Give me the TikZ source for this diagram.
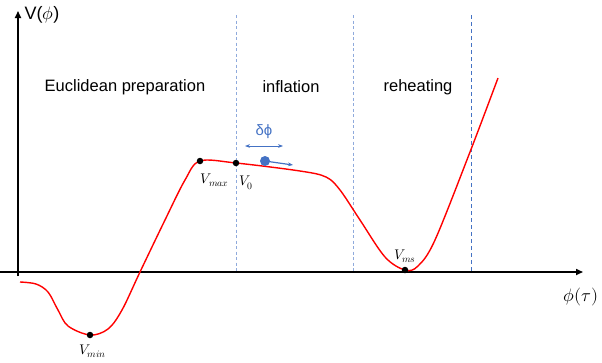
\documentclass[tikz,border=0pt]{standalone}
\usepackage{fontspec}
\setmainfont{Liberation Sans}
\usepackage{unicode-math}
\setmathfont{Latin Modern Math}
\usetikzlibrary{arrows.meta}
\definecolor{dashblue}{HTML}{8FAADC}
\definecolor{dashblue2}{HTML}{4472C4}
\definecolor{ptblue}{HTML}{4472C4}
\begin{document}
\begin{tikzpicture}[x=1pt,y=-1pt,
  axis/.style={line width=1.6pt,-{Triangle[length=7pt,width=6pt]}},
  phase/.style={font=\fontsize{16.5}{18}\selectfont},
  sep/.style={dashblue,line width=0.9pt,dash pattern=on 3pt off 2.5pt},
  sep2/.style={dashblue2,line width=0.7pt,dash pattern=on 4pt off 3pt},
  pot/.style={red,line width=1.4pt},
  pt/.style={circle,fill=black,inner sep=0pt,minimum size=6.5pt},
  lab/.style={font=\fontsize{14}{16}\selectfont}]
\useasboundingbox (0,0) rectangle (602,362);
% separators
\coordinate (s1t) at (236,15); \coordinate (s1b) at (236,272);
\coordinate (s2t) at (353,15); \coordinate (s2b) at (353,272);
\coordinate (s3t) at (471,15); \coordinate (s3b) at (471,272);
\draw[sep] (s1t) -- (s1b);
\draw[sep] (s2t) -- (s2b);
\draw[sep2] (s3t) -- (s3b);
% axes
\coordinate (xo) at (0,272); \coordinate (xe) at (583,272);
\coordinate (yo) at (18,276); \coordinate (ye) at (18,11);
\draw[axis] (xo) -- (xe);
\draw[axis] (yo) -- (ye);
\node[font=\fontsize{18}{20}\selectfont,anchor=west] (vlab) at (21,15) {V($\phi$)};
\node[font=\fontsize{18}{20}\selectfont] (xlab) at (581,297) {$\phi(\tau)$};
% phase labels
\node[phase] (eu) at (125,87) {Euclidean preparation};
\node[phase] (inf) at (291,87) {inflation};
\node[phase] (reh) at (418,87) {reheating};
% potential
\draw[pot] plot[smooth,tension=0.55] coordinates {(20,282) (36,284) (48,292) (58,310) (68,326) (90,335) (108,329) (122,310) (140,272) (165,220) (185,180) (200,161) (236,163) (300,171) (326,177) (340,190) (360,220) (385,257) (405,270) (418,266) (435,240) (470,152) (498,78)};
% points
\node[pt] (vmin) at (90,335) {};
\node[pt] (vmax) at (200,161) {};
\node[pt] (v0) at (236,163) {};
\node[pt] (vms) at (405,270) {};
\node[lab] at (93,351) {$V_{min}$};
\node[lab] at (215,180) {$V_{max}$};
\node[lab] at (246,183) {$V_{0}$};
\node[lab] at (405,256) {$V_{ms}$};
% fluctuation
\node[circle,fill=ptblue,inner sep=0pt,minimum size=10pt] (ball) at (265,161) {};
\coordinate (balle) at (293,165);
\draw[ptblue,line width=1.2pt,-{Stealth[length=5pt]}] (ball.center) -- (balle);
\coordinate (da) at (245,146); \coordinate (db) at (283,146);
\draw[ptblue,line width=1pt,{Stealth[length=5pt]}-{Stealth[length=5pt]}] (da) -- (db);
\node[ptblue,font=\fontsize{15}{17}\selectfont] (dphi) at (264,132) {δϕ};
\end{tikzpicture}
\end{document}
